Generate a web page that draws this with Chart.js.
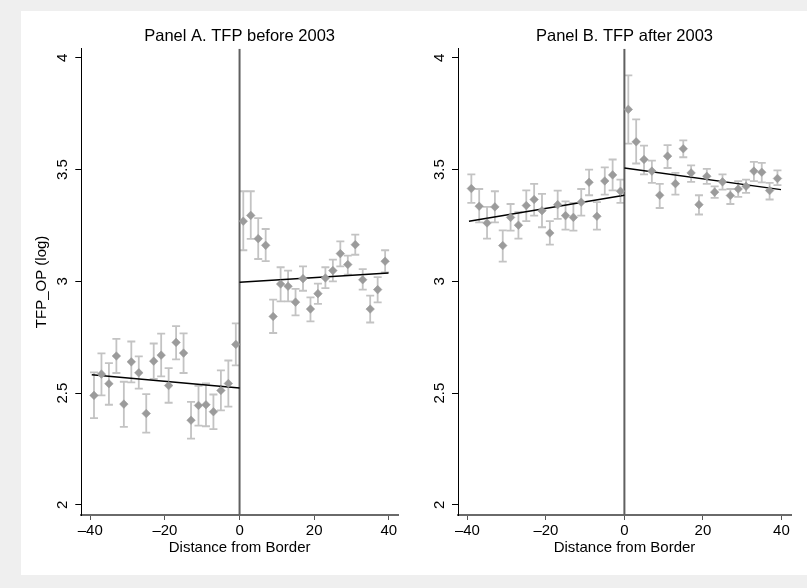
<!DOCTYPE html>
<html>
<head>
<meta charset="utf-8">
<script src="https://cdn.jsdelivr.net/npm/chart.js@4.4.1/dist/chart.umd.min.js"></script>
<style>
  html, body { margin: 0; padding: 0; background: #efefef; }
  #frame { position: absolute; left: 21px; top: 11px; width: 786px; height: 564px; background: #fff; }
  #panelA { position: absolute; left: 0; top: 0; }
  #panelB { position: absolute; left: 400px; top: 0; }
</style>
</head>
<body>
<div id="frame">
  <canvas id="panelA" width="400" height="564"></canvas>
  <canvas id="panelB" width="386" height="564"></canvas>
</div>
<script>
// bins of distance from the border (km)
const distance = [-39,-37,-35,-33,-31,-29,-27,-25,-23,-21,-19,-17,-15,-13,-11,-9,-7,-5,-3,-1,
                  1,3,5,7,9,11,13,15,17,19,21,23,25,27,29,31,33,35,37,39];

// Panel A: TFP before 2003
const tfpBefore   = [2.490,2.585,2.542,2.666,2.451,2.640,2.591,2.409,2.643,2.670,2.534,2.727,2.679,2.379,2.445,2.448,2.417,2.512,2.543,2.718,
                     3.269,3.295,3.191,3.161,2.843,2.988,2.978,2.907,3.012,2.876,2.945,3.015,3.048,3.124,3.075,3.164,3.007,2.876,2.963,3.090];
const tfpBeforeHi = [2.593,2.678,2.634,2.743,2.551,2.731,2.664,2.496,2.722,2.766,2.612,2.800,2.767,2.461,2.533,2.543,2.494,2.602,2.646,2.812,
                     3.403,3.403,3.283,3.234,2.918,3.063,3.048,2.966,3.067,2.928,2.990,3.063,3.097,3.179,3.115,3.209,3.055,2.936,3.019,3.139];
const tfpBeforeLo = [2.388,2.490,2.448,2.590,2.349,2.548,2.520,2.323,2.564,2.575,2.457,2.651,2.590,2.297,2.355,2.352,2.339,2.423,2.440,2.624,
                     3.139,3.190,3.100,3.090,2.769,2.910,2.910,2.848,2.958,2.821,2.899,2.970,3.000,3.067,3.030,3.119,2.963,2.816,2.906,3.040];

// Panel B: TFP after 2003
const tfpAfter    = [3.415,3.336,3.261,3.333,3.160,3.286,3.251,3.339,3.366,3.316,3.216,3.343,3.294,3.286,3.354,3.443,3.291,3.449,3.476,3.403,
                     3.769,3.624,3.545,3.493,3.385,3.560,3.437,3.593,3.485,3.343,3.470,3.399,3.445,3.384,3.413,3.425,3.493,3.488,3.406,3.460];
const tfpAfterHi  = [3.478,3.413,3.333,3.403,3.228,3.346,3.309,3.407,3.436,3.391,3.269,3.406,3.358,3.351,3.413,3.500,3.354,3.510,3.545,3.455,
                     3.921,3.724,3.607,3.540,3.436,3.609,3.485,3.630,3.519,3.385,3.503,3.425,3.478,3.413,3.448,3.455,3.534,3.530,3.440,3.496];
const tfpAfterLo  = [3.351,3.264,3.191,3.264,3.088,3.227,3.191,3.269,3.294,3.242,3.164,3.279,3.231,3.227,3.294,3.385,3.231,3.388,3.407,3.351,
                     3.616,3.527,3.478,3.440,3.328,3.507,3.388,3.555,3.445,3.299,3.436,3.373,3.410,3.346,3.378,3.396,3.448,3.443,3.366,3.430];

// linear fits on each side of the border
const fitXLeft  = [-39.6, 0];
const fitXRight = [0, 39.9];
const fitBeforeLeft  = [2.582, 2.523];
const fitBeforeRight = [2.996, 3.037];
const fitAfterLeft   = [3.269, 3.385];
const fitAfterRight  = [3.507, 3.410];

// axes
const xTicks = [-40, -20, 0, 20, 40];
const xTickLabels = ['\u201340', '\u201320', '0', '20', '40'];
const yTicks = [2, 2.5, 3, 3.5, 4];
const yTickLabels = ['2', '2.5', '3', '3.5', '4'];
const xRange = [-42.4, 42.45];
const yRange = [1.955, 4.04];

const FONT = 'Liberation Sans, Arial, Helvetica, sans-serif';

const errorBars = {
  id: 'errorBars',
  beforeDatasetsDraw(chart, args, opts) {
    const { x, y } = chart.scales;
    const ctx = chart.ctx;
    ctx.save();
    ctx.strokeStyle = '#c3c3c3';
    ctx.lineWidth = 1.8;
    for (let i = 0; i < distance.length; i++) {
      const px = x.getPixelForValue(distance[i]);
      const top = y.getPixelForValue(opts.hi[i]);
      const bot = y.getPixelForValue(opts.lo[i]);
      ctx.beginPath();
      ctx.moveTo(px, top); ctx.lineTo(px, bot);
      ctx.moveTo(px - 4, top); ctx.lineTo(px + 4, top);
      ctx.moveTo(px - 4, bot); ctx.lineTo(px + 4, bot);
      ctx.stroke();
    }
    ctx.restore();
  }
};

function pts(xs, ys) {
  return xs.map((v, i) => ({ x: v, y: ys[i] }));
}

function makePanel(id, title, vals, hi, lo, fitL, fitR, cfg) {
  return new Chart(document.getElementById(id), {
    type: 'scatter',
    data: {
      datasets: [
        {
          data: pts(distance, vals),
          pointStyle: 'rectRot',
          pointRadius: 4.3,
          backgroundColor: '#9b9b9b',
          borderColor: '#9b9b9b',
          borderWidth: 0.5
        },
        {
          data: pts(fitXLeft, fitL),
          showLine: true, pointRadius: 0,
          borderColor: '#000', borderWidth: 1.4
        },
        {
          data: pts(fitXRight, fitR),
          showLine: true, pointRadius: 0,
          borderColor: '#000', borderWidth: 1.4
        },
        {
          data: pts([0, 0], yRange),
          showLine: true, pointRadius: 0,
          borderColor: '#606060', borderWidth: 2
        }
      ]
    },
    options: {
      responsive: false,
      animation: false,
      events: [],
      layout: { padding: { left: 0, right: cfg.padRight, top: 0, bottom: 0 } },
      plugins: {
        legend: { display: false },
        tooltip: { enabled: false },
        title: {
          display: true,
          text: title,
          fullSize: false,
          color: '#000',
          font: { family: FONT, size: 16.5, weight: 'normal' },
          padding: { top: 16, bottom: 2 }
        },
        errorBars: { hi: hi, lo: lo }
      },
      scales: {
        x: {
          type: 'linear',
          min: xRange[0], max: xRange[1],
          afterBuildTicks: s => { s.ticks = xTicks.map(v => ({ value: v })); },
          afterFit: s => { s.height = 60; },
          ticks: {
            callback: v => xTickLabels[xTicks.indexOf(v)],
            color: '#000',
            font: { family: FONT, size: 15 },
            padding: 2,
            maxRotation: 0, minRotation: 0
          },
          grid: { drawOnChartArea: false, tickLength: 5, color: '#555', lineWidth: 1 },
          border: { color: '#6a6a6a', width: 2 },
          title: {
            display: true,
            text: 'Distance from Border',
            color: '#000',
            font: { family: FONT, size: 15 },
            padding: { top: 0, bottom: 18 }
          }
        },
        y: {
          type: 'linear',
          min: yRange[0], max: yRange[1],
          afterBuildTicks: s => { s.ticks = yTicks.map(v => ({ value: v })); },
          afterFit: s => { s.width = cfg.yWidth; },
          ticks: {
            callback: v => yTickLabels[yTicks.indexOf(v)],
            color: '#000',
            font: { family: FONT, size: 15 },
            padding: 2,
            minRotation: 90, maxRotation: 90,
            crossAlign: 'center'
          },
          grid: { drawOnChartArea: false, tickLength: 6, color: '#000', lineWidth: 1 },
          border: { color: '#000', width: 1 },
          title: {
            display: cfg.yTitle,
            text: 'TFP_OP (log)',
            color: '#000',
            font: { family: FONT, size: 15 },
            padding: { top: 12, bottom: 0 }
          }
        }
      }
    },
    plugins: [errorBars]
  });
}

makePanel('panelA', 'Panel A. TFP before 2003', tfpBefore, tfpBeforeHi, tfpBeforeLo,
          fitBeforeLeft, fitBeforeRight, { padRight: 23, yWidth: 60.3, yTitle: true });
makePanel('panelB', 'Panel B. TFP after 2003', tfpAfter, tfpAfterHi, tfpAfterLo,
          fitAfterLeft, fitAfterRight, { padRight: 16, yWidth: 37, yTitle: false });
</script>
</body>
</html>
